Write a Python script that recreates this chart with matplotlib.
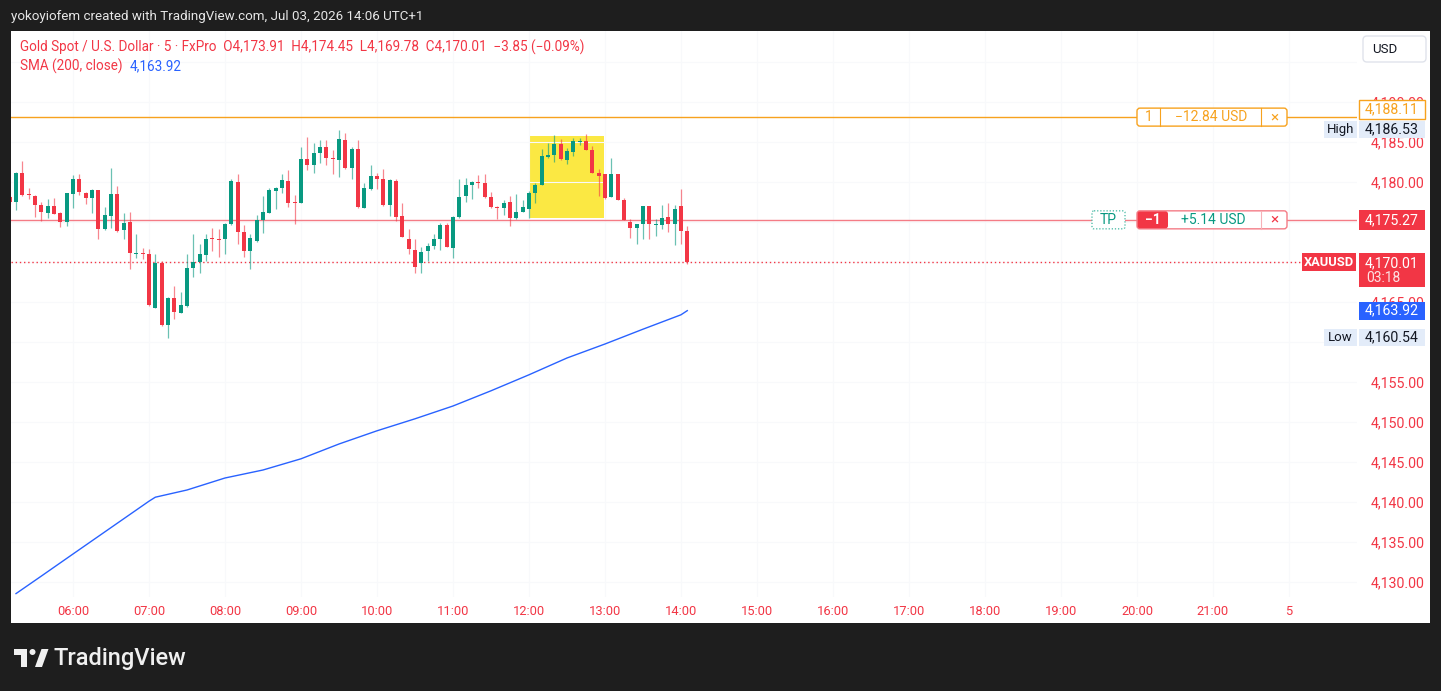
import matplotlib
matplotlib.use("Agg")
import matplotlib.pyplot as plt
from matplotlib.patches import Rectangle, FancyBboxPatch, Polygon, Circle

W, H, DPI = 1441, 691, 100

# ---------------- data (5-min XAUUSD candles, bar index 0 = 05:15) ----------------
bar_index = list(range(-1, 107))
opens = [4178.10, 4177.46, 4181.13, 4178.50, 4178.29, 4177.08, 4176.17, 4177.00, 4176.08, 4175.04,
         4178.46, 4180.42, 4178.67, 4178.04, 4178.96, 4174.17, 4175.75, 4178.50, 4174.00, 4175.00,
         4171.04, 4171.08, 4171.04, 4164.29, 4169.92, 4162.08, 4165.50, 4163.67, 4164.46, 4169.29,
         4170.04, 4170.83, 4173.04, 4172.92, 4172.83, 4174.71, 4180.00, 4173.79, 4171.38, 4172.63,
         4175.25, 4176.17, 4178.88, 4179.21, 4180.13, 4177.50, 4177.42, 4182.83, 4182.08, 4183.67,
         4184.42, 4183.04, 4182.71, 4185.25, 4181.79, 4184.17, 4176.79, 4179.08, 4180.75, 4180.33,
         4177.13, 4180.13, 4175.75, 4172.92, 4171.50, 4169.83, 4171.38, 4172.00, 4172.83, 4174.63,
         4171.79, 4175.67, 4178.25, 4179.58, 4180.00, 4179.92, 4178.17, 4176.92, 4176.79, 4177.50,
         4175.50, 4176.29, 4176.67, 4178.67, 4179.67, 4183.17, 4183.33, 4184.71, 4182.75, 4183.75,
         4185.04, 4185.13, 4183.96, 4181.17, 4180.96, 4178.17, 4180.96, 4177.75, 4175.00, 4174.29,
         4174.71, 4177.00, 4174.67, 4174.58, 4175.67, 4174.79, 4177.00, 4173.91]
highs = [4178.30, 4181.20, 4182.58, 4179.25, 4178.37, 4177.50, 4177.83, 4178.04, 4176.29, 4178.67,
         4180.83, 4181.04, 4178.79, 4179.08, 4179.00, 4176.92, 4181.75, 4179.50, 4176.08, 4176.25,
         4173.46, 4171.79, 4171.58, 4171.04, 4170.13, 4165.63, 4167.00, 4166.25, 4171.04, 4173.46,
         4172.21, 4173.54, 4174.21, 4174.08, 4174.83, 4180.33, 4180.96, 4174.58, 4173.46, 4175.83,
         4178.25, 4179.29, 4179.38, 4180.96, 4181.50, 4178.33, 4184.42, 4185.63, 4184.83, 4185.21,
         4185.21, 4184.00, 4186.53, 4186.17, 4184.42, 4185.21, 4179.83, 4182.13, 4181.13, 4181.67,
         4180.33, 4180.42, 4177.33, 4174.08, 4172.83, 4171.92, 4172.33, 4173.46, 4174.83, 4174.92,
         4175.75, 4180.42, 4180.54, 4180.13, 4180.83, 4180.96, 4178.75, 4177.00, 4177.75, 4178.25,
         4178.54, 4177.75, 4178.88, 4179.92, 4184.08, 4184.92, 4185.83, 4185.33, 4184.29, 4185.54,
         4185.54, 4185.96, 4184.50, 4181.58, 4180.96, 4182.96, 4180.96, 4178.04, 4175.33, 4174.71,
         4177.00, 4177.00, 4175.42, 4177.08, 4177.33, 4177.08, 4179.08, 4174.45]
lows = [4177.20, 4176.46, 4178.30, 4177.92, 4175.63, 4175.13, 4175.54, 4175.96, 4174.38, 4174.50,
        4176.79, 4178.38, 4177.25, 4176.17, 4172.83, 4173.96, 4174.29, 4173.75, 4172.92, 4169.08,
        4170.46, 4170.33, 4164.50, 4164.21, 4162.00, 4160.54, 4162.83, 4163.67, 4164.38, 4168.17,
        4168.58, 4170.13, 4171.38, 4170.67, 4171.04, 4174.63, 4172.21, 4170.63, 4169.08, 4172.50,
        4173.67, 4176.08, 4176.58, 4178.67, 4176.88, 4174.79, 4177.42, 4181.46, 4181.08, 4182.33,
        4182.08, 4180.96, 4180.67, 4181.67, 4180.42, 4176.79, 4176.71, 4179.00, 4179.08, 4176.96,
        4175.75, 4175.13, 4173.08, 4170.96, 4168.67, 4168.67, 4170.13, 4171.58, 4171.50, 4171.83,
        4170.54, 4175.54, 4177.50, 4177.83, 4179.29, 4178.04, 4176.79, 4175.42, 4175.83, 4174.50,
        4175.42, 4176.25, 4175.54, 4177.33, 4179.58, 4183.04, 4182.50, 4182.75, 4182.21, 4183.25,
        4184.58, 4183.96, 4181.17, 4178.25, 4177.92, 4178.17, 4177.75, 4175.21, 4173.04, 4172.21,
        4172.83, 4172.83, 4173.25, 4174.08, 4173.75, 4172.08, 4172.29, 4169.78]
closes = [4177.50, 4181.13, 4178.38, 4178.33, 4177.08, 4176.21, 4177.00, 4176.04, 4175.04, 4178.58,
          4180.42, 4178.79, 4178.04, 4178.96, 4174.17, 4175.83, 4178.50, 4173.88, 4174.92, 4171.08,
          4171.17, 4170.96, 4164.58, 4169.92, 4162.08, 4165.50, 4163.79, 4164.63, 4169.21, 4170.04,
          4170.96, 4172.83, 4172.92, 4172.79, 4174.71, 4180.13, 4173.79, 4171.38, 4173.00, 4175.21,
          4176.25, 4178.96, 4179.29, 4180.25, 4177.42, 4177.33, 4182.83, 4182.08, 4183.67, 4184.42,
          4182.96, 4182.88, 4185.33, 4181.79, 4184.08, 4176.88, 4179.25, 4180.75, 4180.33, 4177.13,
          4180.25, 4175.67, 4173.17, 4171.67, 4169.42, 4171.25, 4172.00, 4172.83, 4174.63, 4171.92,
          4175.67, 4178.17, 4179.58, 4180.00, 4179.92, 4178.17, 4176.88, 4176.79, 4177.42, 4175.54,
          4176.25, 4176.92, 4178.67, 4179.67, 4183.25, 4183.33, 4184.71, 4182.83, 4183.83, 4185.13,
          4185.13, 4184.00, 4181.17, 4180.75, 4178.04, 4180.96, 4177.75, 4175.21, 4174.29, 4174.71,
          4177.00, 4174.79, 4174.75, 4175.46, 4174.75, 4176.58, 4173.86, 4170.01]

# SMA(200) sampled at bar indices
sma_idx = [0, 4, 9, 15, 21, 22, 27, 33, 39, 45, 51, 57, 63, 69, 75, 81, 87, 93, 99, 105, 106]
sma_val = [4128.55, 4130.74, 4133.50, 4136.80, 4140.10, 4140.60, 4141.50, 4143.00, 4144.00, 4145.40,
           4147.25, 4148.90, 4150.40, 4152.00, 4153.90, 4155.90, 4158.00, 4159.75, 4161.60, 4163.40, 4163.92]

time_tick_idx = [9, 21, 33, 45, 57, 69, 81, 93, 105, 117, 129, 141, 153, 165, 177, 189, 201]
time_tick_labels = ["06:00", "07:00", "08:00", "09:00", "10:00", "11:00", "12:00", "13:00", "14:00",
                    "15:00", "16:00", "17:00", "18:00", "19:00", "20:00", "21:00", "5"]
price_ticks = [4130, 4135, 4140, 4145, 4150, 4155, 4160, 4165, 4170, 4175, 4180, 4185, 4190, 4195]
hidden_ticks = [4160, 4170, 4175, 4195]   # fully covered by price labels in the reference

order_price = 4188.11
order_pnl = "\u221212.84 USD"
tp_price = 4175.27
tp_pnl = "+5.14 USD"
last_price = 4170.01
sma_last = 4163.92
day_high = 4186.53
day_low = 4160.54
box_idx = (81.2, 92.8)
box_price = (4175.5, 4185.75)

# ---------------- style ----------------
BG = "#1e1e1e"
RED = "#f23645"
GREEN = "#089981"
BLUE = "#2962ff"
ORANGE = "#f7a21e"
TEXT = "#131722"
FONT = "Roboto"
plt.rcParams["font.family"] = [FONT, "DejaVu Sans"]

fig = plt.figure(figsize=(W / DPI, H / DPI), dpi=DPI, facecolor=BG)

# background panel
bg = fig.add_axes([0, 0, 1, 1], zorder=0)
bg.set_xlim(0, W); bg.set_ylim(H, 0); bg.axis("off")
bg.add_patch(Rectangle((11, 31), 1430 - 11, 623 - 31, facecolor="white", edgecolor="none"))

# main chart axes
L, R, T, B = 11, 1357, 31, 597
PX_PER_BAR, PX_PER_USD, Y4180 = 6.333, 8.0, 182.0
ax = fig.add_axes([L / W, 1 - B / H, (R - L) / W, (B - T) / H], zorder=1)
ax.set_facecolor("none")
x_left = (L - 16) / PX_PER_BAR
x_right = (R - 16) / PX_PER_BAR
ax.set_xlim(x_left, x_right)
ax.set_ylim(4180 - (B - Y4180) / PX_PER_USD, 4180 + (Y4180 - T) / PX_PER_USD)
for s in ax.spines.values():
    s.set_visible(False)

ax.set_xticks(time_tick_idx)
ax.set_xticklabels(time_tick_labels)
ax.tick_params(axis="x", length=0, pad=6, labelsize=9.3, labelcolor=RED)
ax.yaxis.tick_right()
ax.set_yticks(price_ticks)
ax.set_yticklabels(["" if p in hidden_ticks else f"{p:,.2f}" for p in price_ticks])
ax.tick_params(axis="y", length=0, pad=10, labelsize=10.2, labelcolor=RED)
ax.grid(True, color="#f8f9fb", lw=0.8, zorder=0)

# highlight rectangle
ax.add_patch(Rectangle((box_idx[0], box_price[0]), box_idx[1] - box_idx[0], box_price[1] - box_price[0],
                       facecolor="#fbe843", edgecolor="none", zorder=1))

# horizontal lines
ax.axhline(order_price, color=ORANGE, lw=1.0, zorder=2)
ax.axhline(tp_price, color="#f47c86", lw=1.0, zorder=2)
ax.plot([x_left, (1302 - 16) / PX_PER_BAR], [last_price, last_price], color=RED, lw=1.0,
        ls=(0, (1, 2)), zorder=2)

# candles
cols = [GREEN if c >= o else RED for o, c in zip(opens, closes)]
ax.vlines(bar_index, lows, highs, colors=cols, lw=0.9, alpha=0.6, zorder=3)
bottoms = [min(o, c) for o, c in zip(opens, closes)]
heights = [max(abs(c - o), 0.13) for o, c in zip(opens, closes)]
ax.bar(bar_index, heights, bottom=bottoms, width=0.66, color=cols, zorder=4, linewidth=0)

# SMA
ax.plot(sma_idx, sma_val, color=BLUE, lw=1.0, zorder=3)

# ---------------- overlay (pixel space) ----------------
ov = fig.add_axes([0, 0, 1, 1], zorder=3)
ov.set_xlim(0, W); ov.set_ylim(H, 0); ov.axis("off")
ov.patch.set_alpha(0)

def py(price):
    return H - ax.transData.transform((0, price))[1]

def box(x0, y0, x1, y1, fc, ec="none", lw=1.0, ls="-", r=0.0, z=5):
    if r > 0:
        p = FancyBboxPatch((x0, y0), x1 - x0, y1 - y0, boxstyle=f"round,pad=0,rounding_size={r}",
                           facecolor=fc, edgecolor=ec, lw=lw, ls=ls, zorder=z)
    else:
        p = Rectangle((x0, y0), x1 - x0, y1 - y0, facecolor=fc, edgecolor=ec, lw=lw, ls=ls, zorder=z)
    ov.add_patch(p)

def txt(x, y, s, c, size=10, ha="center", weight="normal", z=6):
    return ov.text(x, y, s, color=c, fontsize=size, ha=ha, va="center", fontweight=weight, zorder=z)

# header
txt(11, 16, "yokoyiofem created with TradingView.com, Jul 03, 2026 14:06 UTC+1", "#e6e6e6", 9.6, ha="left")
txt(20, 47, "Gold Spot / U.S. Dollar \u00b7 5 \u00b7 FxPro  O4,173.91  H4,174.45  L4,169.78  C4,170.01  \u22123.85 (\u22120.09%)",
    RED, 9.75, ha="left")
sma_lbl = txt(20, 66, "SMA (200, close)", RED, 9.75, ha="left")
renderer = fig.canvas.get_renderer()
bb = sma_lbl.get_window_extent(renderer=renderer)
txt(bb.x1 + 7, 66, f"{sma_last:,.2f}", BLUE, 9.75, ha="left")

# USD box
box(1363, 36, 1426, 62, "white", "#e0e3eb", 1.0, r=4)
txt(1385, 49, "USD", TEXT, 9.5)

# order line label
yo = py(order_price)
box(1137, yo - 9, 1287, yo + 9, "white", ORANGE, 1.0, r=3)
ov.plot([1160, 1160], [yo - 9, yo + 9], color=ORANGE, lw=0.8, zorder=6)
ov.plot([1261, 1261], [yo - 9, yo + 9], color=ORANGE, lw=0.8, zorder=6)
txt(1148.5, yo, "1", ORANGE, 10)
txt(1211, yo, order_pnl, ORANGE, 10)
txt(1274, yo, "\u00d7", ORANGE, 11)
box(1359, yo - 17, 1425, yo + 1.5, "white", ORANGE, 1.0)
txt(1392, yo - 7.8, f"{order_price:,.2f}", ORANGE, 10.2)

# high label
yh = py(day_high)
box(1324, yh - 8.5, 1357, yh + 8.5, "#e3ecf9")
box(1359, yh - 8.5, 1425, yh + 8.5, "#e3ecf9")
txt(1340.5, yh, "High", TEXT, 9.5)
txt(1392, yh, f"{day_high:,.2f}", TEXT, 10.2)

# TP line label
yt = py(tp_price)
box(1092, yt - 9, 1125, yt + 9, "white", "#3fb6a0", 0.9, ls=(0, (1, 1.5)), r=2)
txt(1108.5, yt, "TP", GREEN, 10)
box(1137, yt - 9, 1287, yt + 9, "white", "#f47c86", 1.0, r=3)
box(1137.5, yt - 8.5, 1168, yt + 8.5, RED, "none", r=2.5)
ov.plot([1261, 1261], [yt - 9, yt + 9], color="#f7b1b7", lw=0.8, zorder=6)
txt(1152.5, yt, "\u22121", "white", 10, weight="bold")
txt(1213, yt, tp_pnl, GREEN, 10)
txt(1274, yt, "\u00d7", RED, 11)
box(1359, yt - 10, 1425, yt + 10, RED)
txt(1392, yt, f"{tp_price:,.2f}", "white", 10.2)

# last price label
yl = py(last_price)
box(1302, yl - 8.5, 1356, yl + 9.5, RED)
txt(1329, yl + 0.5, "XAUUSD", "white", 9.3, weight="bold")
box(1359, yl - 8.5, 1425, yl + 25.5, RED)
txt(1392, yl + 1, f"{last_price:,.2f}", "white", 10.2)
txt(1366, yl + 16, "03:18", "#fde2e4", 10, ha="left")

# SMA label
ys = py(sma_last)
box(1359, ys - 9, 1425, ys + 9, BLUE)
txt(1392, ys, f"{sma_last:,.2f}", "white", 10.2)

# low label
ylo = py(day_low)
box(1324, ylo - 8.5, 1357, ylo + 8.5, "#e3ecf9")
box(1359, ylo - 8.5, 1425, ylo + 8.5, "#e3ecf9")
txt(1340.5, ylo, "Low", TEXT, 9.5)
txt(1392, ylo, f"{day_low:,.2f}", TEXT, 10.2)

# TradingView logo
ov.add_patch(Polygon([(14, 649), (27, 649), (27, 667), (21, 667), (21, 655), (14, 655)],
                     closed=True, facecolor="#f0f0f0", edgecolor="none", zorder=6))
ov.add_patch(Circle((32.5, 652), 3.0, facecolor="#f0f0f0", edgecolor="none", zorder=6))
ov.add_patch(Polygon([(35, 667), (42, 667), (48.5, 649), (41.5, 649)],
                     closed=True, facecolor="#f0f0f0", edgecolor="none", zorder=6))
ov.text(53, 658, "TradingView", color="#f0f0f0", fontsize=17, ha="left", va="center",
        fontweight="medium", zorder=6)

fig.savefig("out.png", dpi=DPI, facecolor=BG)
